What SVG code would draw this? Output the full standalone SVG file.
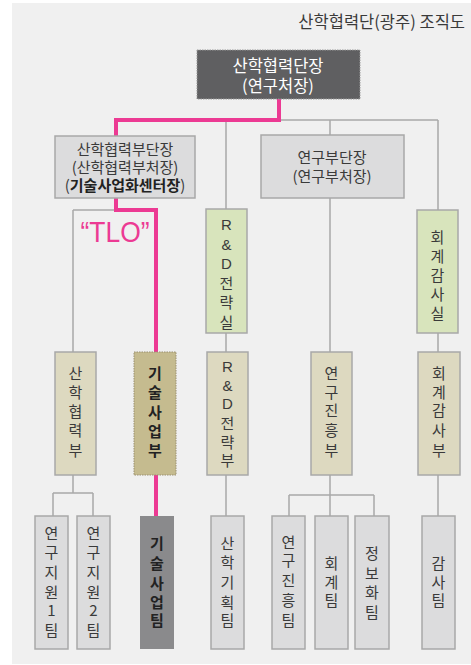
<svg xmlns="http://www.w3.org/2000/svg" width="471" height="665" viewBox="0 0 471 665">
<style>
text{font-family:"Noto Sans CJK KR","Noto Sans",sans-serif;fill:#3a3a3a;font-size:15px}
.c{text-anchor:middle}
.s14{font-size:15px}
.b{font-weight:bold;fill:#222}
.gl{stroke:#a8a8a8;stroke-width:1.5;fill:none}
.pk{stroke:#ec3a93;stroke-width:4;fill:none;stroke-linejoin:miter}
.gray{fill:#dcdcdd;stroke:#a8a8a8;stroke-width:1.5}
.green{fill:#d8e4bc;stroke:#a8a8a8;stroke-width:1.5}
.beige{fill:#ddd9c0;stroke:#a8a8a8;stroke-width:1.5}
</style>
<rect x="12" y="3" width="459" height="661" fill="#f0f0f0"/>
<text x="465" y="28" text-anchor="end" style="font-size:16.5px">산학협력단(광주) 조직도</text>

<g id="connectors">
<path class="gl" d="M279 120H438M226 120V209M330 120V135M438 120V210"/>
<path class="gl" d="M73 210H156M73 210V352M226 333V352M330 198V352M438 333V352"/>
<path class="gl" d="M73 475V493M53 493H93M53 493V516M93 493V516"/>
<path class="gl" d="M226 475V516M330 475V516M289 495H374M289 495V516M374 495V516M438 475V516"/>
<path class="pk" d="M279 99V120H116V137"/>
<path class="pk" d="M116 198V210H156V516"/>
</g>

<g id="n_top">
<rect x="197" y="50" width="163" height="49" fill="#5f5f61" stroke="#9a9a9a" stroke-width="1" stroke-dasharray="1.5 1"/>
<text x="278" y="72" class="c" style="fill:#fff;font-size:16.5px">산학협력단장</text>
<text x="278" y="92" class="c" style="fill:#fff;font-size:16.5px">(연구처장)</text>
</g>

<g id="n_sub1">
<rect x="55" y="136" width="140" height="62" class="gray"/>
<text x="125" y="155" class="c s14">산학협력부단장</text>
<text x="125" y="173" class="c s14">(산학협력부처장)</text>
<text x="125" y="191" class="c s14">(<tspan class="b">기술사업화센터장</tspan>)</text>
</g>

<g id="n_sub2">
<rect x="261" y="135" width="143" height="63" class="gray"/>
<text x="332" y="163" class="c s14">연구부단장</text>
<text x="332" y="182" class="c s14">(연구부처장)</text>
</g>

<text x="115" y="242" class="c" style="fill:#ec3a93;font-family:'Liberation Sans',sans-serif;font-size:29px" textLength="69" lengthAdjust="spacingAndGlyphs">“TLO”</text>

<g id="n_rd_sil">
<rect x="206" y="209" width="41" height="124" class="green"/>
<text class="c" style="font-family:'Liberation Sans','Noto Sans CJK KR',sans-serif"><tspan x="226.5" y="230">R</tspan><tspan x="226.5" y="250">&amp;</tspan><tspan x="226.5" y="269">D</tspan></text>
<text class="c"><tspan x="226.5" y="289">전</tspan><tspan x="226.5" y="308">략</tspan><tspan x="226.5" y="328">실</tspan></text>
</g>

<g id="n_audit_sil">
<rect x="417" y="210" width="41" height="123" class="green"/>
<text class="c"><tspan x="437.5" y="243">회</tspan><tspan x="437.5" y="262">계</tspan><tspan x="437.5" y="281">감</tspan><tspan x="437.5" y="300">사</tspan><tspan x="437.5" y="319">실</tspan></text>
</g>

<g id="n_sanhak_bu">
<rect x="55" y="352" width="41" height="123" class="beige"/>
<text class="c"><tspan x="75.5" y="379">산</tspan><tspan x="75.5" y="398">학</tspan><tspan x="75.5" y="417">협</tspan><tspan x="75.5" y="436">력</tspan><tspan x="75.5" y="456">부</tspan></text>
</g>

<g id="n_tech_bu">
<rect x="134" y="352" width="42" height="123" fill="#c5bb8f" stroke="#9a9070" stroke-width="1" stroke-dasharray="1.5 1"/>
<text class="c b"><tspan x="155" y="379">기</tspan><tspan x="155" y="398">술</tspan><tspan x="155" y="418">사</tspan><tspan x="155" y="437">업</tspan><tspan x="155" y="456">부</tspan></text>
</g>

<g id="n_rd_bu">
<rect x="207" y="352" width="41" height="123" class="beige"/>
<text class="c" style="font-family:'Liberation Sans','Noto Sans CJK KR',sans-serif"><tspan x="227.5" y="372">R</tspan><tspan x="227.5" y="391">&amp;</tspan><tspan x="227.5" y="409">D</tspan></text>
<text class="c"><tspan x="227.5" y="429">전</tspan><tspan x="227.5" y="448">략</tspan><tspan x="227.5" y="466">부</tspan></text>
</g>

<g id="n_promo_bu">
<rect x="311" y="352" width="41" height="123" class="beige"/>
<text class="c"><tspan x="331.5" y="379">연</tspan><tspan x="331.5" y="398">구</tspan><tspan x="331.5" y="416">진</tspan><tspan x="331.5" y="436">흥</tspan><tspan x="331.5" y="456">부</tspan></text>
</g>

<g id="n_audit_bu">
<rect x="418" y="352" width="42" height="123" class="beige"/>
<text class="c"><tspan x="439" y="379">회</tspan><tspan x="439" y="398">계</tspan><tspan x="439" y="416">감</tspan><tspan x="439" y="436">사</tspan><tspan x="439" y="456">부</tspan></text>
</g>

<g id="n_t1">
<rect x="35" y="516" width="33" height="133" class="gray"/>
<text class="c"><tspan x="51.5" y="539">연</tspan><tspan x="51.5" y="558">구</tspan><tspan x="51.5" y="578">지</tspan><tspan x="51.5" y="598">원</tspan><tspan x="51.5" y="616">1</tspan><tspan x="51.5" y="636">팀</tspan></text>
</g>
<g id="n_t2">
<rect x="77" y="516" width="33" height="133" class="gray"/>
<text class="c"><tspan x="93.5" y="539">연</tspan><tspan x="93.5" y="558">구</tspan><tspan x="93.5" y="578">지</tspan><tspan x="93.5" y="598">원</tspan><tspan x="93.5" y="616">2</tspan><tspan x="93.5" y="636">팀</tspan></text>
</g>
<g id="n_tech_team">
<rect x="140" y="516" width="34" height="133" fill="#8a8a8c"/>
<text class="c b"><tspan x="157" y="549">기</tspan><tspan x="157" y="569">술</tspan><tspan x="157" y="589">사</tspan><tspan x="157" y="608">업</tspan><tspan x="157" y="626">팀</tspan></text>
</g>
<g id="n_plan_team">
<rect x="211" y="516" width="33" height="133" class="gray"/>
<text class="c"><tspan x="227.5" y="549">산</tspan><tspan x="227.5" y="568">학</tspan><tspan x="227.5" y="588">기</tspan><tspan x="227.5" y="608">획</tspan><tspan x="227.5" y="626">팀</tspan></text>
</g>
<g id="n_promo_team">
<rect x="272" y="516" width="33" height="133" class="gray"/>
<text class="c"><tspan x="288.5" y="548">연</tspan><tspan x="288.5" y="566">구</tspan><tspan x="288.5" y="586">진</tspan><tspan x="288.5" y="606">흥</tspan><tspan x="288.5" y="626">팀</tspan></text>
</g>
<g id="n_acct_team">
<rect x="315" y="516" width="33" height="133" class="gray"/>
<text class="c"><tspan x="331.5" y="569">회</tspan><tspan x="331.5" y="588">계</tspan><tspan x="331.5" y="606">팀</tspan></text>
</g>
<g id="n_info_team">
<rect x="355" y="516" width="34" height="133" class="gray"/>
<text class="c"><tspan x="372" y="559">정</tspan><tspan x="372" y="579">보</tspan><tspan x="372" y="598">화</tspan><tspan x="372" y="618">팀</tspan></text>
</g>
<g id="n_audit_team">
<rect x="422" y="516" width="33" height="133" class="gray"/>
<text class="c"><tspan x="438.5" y="569">감</tspan><tspan x="438.5" y="588">사</tspan><tspan x="438.5" y="606">팀</tspan></text>
</g>
</svg>
